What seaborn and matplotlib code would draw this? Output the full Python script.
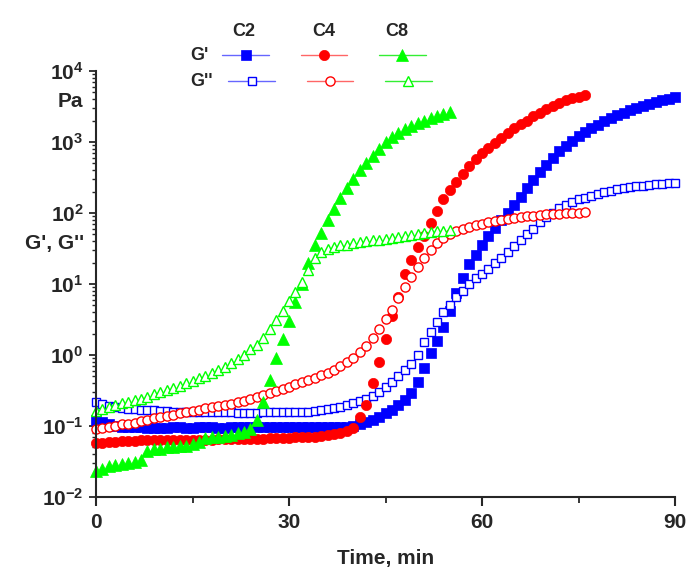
import numpy as np
import matplotlib
matplotlib.use('Agg')
import matplotlib.pyplot as plt
from matplotlib.lines import Line2D
from matplotlib import ticker
import seaborn as sns

# one reading per minute
t_c2 = np.arange(0, 91)
t_c4 = np.arange(0, 77)
t_c8 = np.arange(0, 56)

# C2: G' and G'' (Pa)
c2_g1 = [0.120, 0.113, 0.106, 0.101, 0.098, 0.097, 0.096, 0.096, 0.095, 0.095,
         0.095, 0.095, 0.096, 0.096, 0.095, 0.095, 0.096, 0.096, 0.096, 0.095,
         0.095, 0.096, 0.096, 0.096, 0.097, 0.097, 0.096, 0.096, 0.097, 0.097,
         0.097, 0.097, 0.097, 0.097, 0.097, 0.097, 0.097, 0.097, 0.098, 0.098,
         0.101, 0.106, 0.113, 0.122, 0.135, 0.150, 0.170, 0.195, 0.230, 0.290,
         0.42, 0.65, 1.05, 1.6, 2.5, 4.2, 7.5, 12, 19, 26,
         36, 48, 62, 80, 100, 130, 170, 225, 290, 380,
         480, 600, 740, 880, 1030, 1200, 1400, 1570, 1750, 1950,
         2150, 2400, 2600, 2800, 3000, 3200, 3400, 3650, 3850, 4050,
         4250]
c2_g2 = [0.220, 0.205, 0.192, 0.185, 0.180, 0.176, 0.172, 0.170, 0.168, 0.166,
         0.164, 0.162, 0.160, 0.159, 0.158, 0.157, 0.157, 0.156, 0.156, 0.155,
         0.155, 0.155, 0.154, 0.154, 0.154, 0.154, 0.155, 0.155, 0.155, 0.155,
         0.155, 0.155, 0.156, 0.158, 0.161, 0.166, 0.172, 0.179, 0.186, 0.196,
         0.208, 0.222, 0.240, 0.265, 0.300, 0.350, 0.420, 0.510, 0.620, 0.740,
         1.0, 1.5, 2.1, 2.9, 4.0, 5.0, 6.5, 8.0, 10, 12,
         14, 16.5, 19.5, 23, 28, 34, 42, 50, 60, 75,
         88, 100, 118, 130, 142, 155, 165, 175, 185, 195,
         205, 215, 222, 230, 237, 243, 248, 253, 257, 261,
         265]

# C4
c4_g1 = [0.058, 0.058, 0.059, 0.060, 0.061, 0.062, 0.062, 0.063, 0.063, 0.063,
         0.063, 0.064, 0.064, 0.063, 0.063, 0.064, 0.064, 0.064, 0.064, 0.065,
         0.065, 0.065, 0.065, 0.066, 0.066, 0.066, 0.066, 0.067, 0.067, 0.068,
         0.068, 0.069, 0.070, 0.070, 0.071, 0.072, 0.074, 0.077, 0.080, 0.085,
         0.095, 0.135, 0.20, 0.40, 0.80, 1.7, 3.5, 6.5, 14, 22,
         33, 48, 72, 105, 160, 210, 270, 350, 460, 580,
         700, 830, 980, 1150, 1350, 1550, 1780, 2000, 2300, 2600,
         2950, 3250, 3550, 3850, 4100, 4350, 4600]
c4_g2 = [0.092, 0.095, 0.098, 0.101, 0.105, 0.108, 0.112, 0.117, 0.122, 0.128,
         0.134, 0.140, 0.145, 0.150, 0.155, 0.162, 0.170, 0.177, 0.185, 0.192,
         0.200, 0.207, 0.215, 0.228, 0.240, 0.255, 0.270, 0.290, 0.310, 0.335,
         0.360, 0.390, 0.420, 0.450, 0.480, 0.520, 0.560, 0.620, 0.700, 0.800,
         0.92, 1.10, 1.35, 1.75, 2.3, 3.2, 4.3, 6.3, 9.0, 12.5,
         17.5, 23, 30, 38, 45, 51, 56, 60, 64, 68,
         71, 74, 77, 80, 83, 86, 88, 90, 92, 94,
         96, 97, 98, 99, 100, 101, 102]

# C8
c8_g1 = [0.023, 0.025, 0.027, 0.028, 0.029, 0.030, 0.031, 0.033, 0.045, 0.047,
         0.048, 0.050, 0.051, 0.052, 0.053, 0.055, 0.060, 0.068, 0.070, 0.071,
         0.072, 0.075, 0.080, 0.082, 0.090, 0.12, 0.22, 0.45, 0.90, 1.7,
         3.0, 5.5, 10, 20, 35, 52, 80, 115, 165, 225,
         300, 400, 510, 640, 800, 1000, 1180, 1350, 1500, 1680,
         1850, 2000, 2150, 2300, 2500, 2650]
c8_g2 = [0.165, 0.175, 0.185, 0.198, 0.210, 0.220, 0.230, 0.240, 0.258, 0.278,
         0.300, 0.320, 0.345, 0.370, 0.400, 0.430, 0.470, 0.510, 0.560, 0.610,
         0.680, 0.770, 0.880, 1.00, 1.20, 1.40, 1.75, 2.30, 3.10, 4.20,
         5.8, 7.8, 10.5, 16, 23, 28, 31, 33, 35, 36,
         37.5, 39, 40, 41, 42, 43.5, 45, 46.5, 48, 49.5,
         51, 52.5, 54, 55, 56.5, 58]

samples = ['C2', 'C4', 'C8']
moduli = ["G'", "G''"]

sns.set_style('ticks')
plt.rcParams['font.family'] = ['Liberation Sans', 'DejaVu Sans']
plt.rcParams['font.weight'] = 'bold'
plt.rcParams['mathtext.fontset'] = 'custom'
plt.rcParams['mathtext.rm'] = 'Liberation Sans:bold'
plt.rcParams['mathtext.bf'] = 'Liberation Sans:bold'

fig = plt.figure(figsize=(6.96, 5.86), dpi=100)
ax = fig.add_axes([96/696, 1-497/586, 579/696, 426/586])

# (time, values, marker, colour, filled, size)
series = [
    (t_c2, c2_g1, 's', '#0000ff', True, 7.0),
    (t_c2, c2_g2, 's', '#0000ff', False, 6.3),
    (t_c4, c4_g1, 'o', '#ff0000', True, 7.4),
    (t_c4, c4_g2, 'o', '#ff0000', False, 6.6),
    (t_c8, c8_g1, '^', '#00ff00', True, 8.2),
    (t_c8, c8_g2, '^', '#00ff00', False, 7.4),
]
line_cols = {'#0000ff': '#6666ff', '#ff0000': '#ff6666', '#00ff00': '#33ee33'}

handles = []
for t, v, m, c, filled, ms in series:
    sns.lineplot(x=t, y=v, ax=ax, linestyle='none', marker=m, markersize=ms,
                 color=c, markerfacecolor=c if filled else 'white',
                 markeredgecolor=c, markeredgewidth=0.5 if filled else 1.0,
                 errorbar=None, clip_on=False)
    handles.append(Line2D([], [], color=line_cols[c], lw=1.0, marker=m,
                          markersize=ms, markerfacecolor=c if filled else 'white',
                          markeredgecolor=c, markeredgewidth=0.5 if filled else 1.0))

ax.set_yscale('log')
ax.set_ylim(1e-2, 1e4)
ax.set_xlim(0, 90)
ax.xaxis.set_major_locator(ticker.FixedLocator([0, 30, 60, 90]))
ax.xaxis.set_minor_locator(ticker.FixedLocator([15, 45, 75]))
ax.yaxis.set_major_locator(ticker.LogLocator(base=10, numticks=20))
ax.yaxis.set_minor_locator(ticker.LogLocator(base=10, subs=np.arange(2, 10), numticks=20))
ax.yaxis.set_major_formatter(ticker.FuncFormatter(
    lambda v, p: r'$\mathbf{10^{%d}}$' % round(np.log10(v))))
ax.yaxis.set_minor_formatter(ticker.NullFormatter())

sns.despine(ax=ax)
for s in ['left', 'bottom']:
    ax.spines[s].set_linewidth(1.5)
ax.tick_params(axis='x', which='major', length=6.5, width=1.5, labelsize=15, pad=5)
ax.tick_params(axis='x', which='minor', length=4, width=1.3)
ax.tick_params(axis='y', which='major', length=5, width=1.3, labelsize=15, pad=4)
ax.tick_params(axis='y', which='minor', length=3, width=1.0)

ax.set_xlabel('Time, min', fontsize=15, fontweight='bold', labelpad=12)
ax.set_ylabel("G', G''", fontsize=15, fontweight='bold', rotation=0, ha='center', va='center')
ax.yaxis.set_label_coords(-0.071, 0.596)
ax.text(-0.045, 0.928, 'Pa', transform=ax.transAxes, fontsize=15,
        fontweight='bold', ha='center', va='center')

# legend: two rows, columns per sample
for row, (hs, cx, cy) in enumerate([(handles[0::2], 324, 56), (handles[1::2], 330, 82)]):
    fig.legend(handles=hs, labels=[''] * 3, ncol=3, loc='center',
               bbox_to_anchor=(cx/696, 1 - cy/586), frameon=False,
               handlelength=2.8, handletextpad=0, columnspacing=1.9,
               borderpad=0, fontsize=12)
for name, x in zip(samples, [244, 324, 397]):
    fig.text(x/696, 1 - 31/586, name, ha='center', va='center', fontsize=13, fontweight='bold')
for name, y in zip(moduli, [56, 82]):
    fig.text(190/696, 1 - y/586, name, ha='left', va='center', fontsize=13, fontweight='bold')

fig.savefig('out.png', dpi=100)
